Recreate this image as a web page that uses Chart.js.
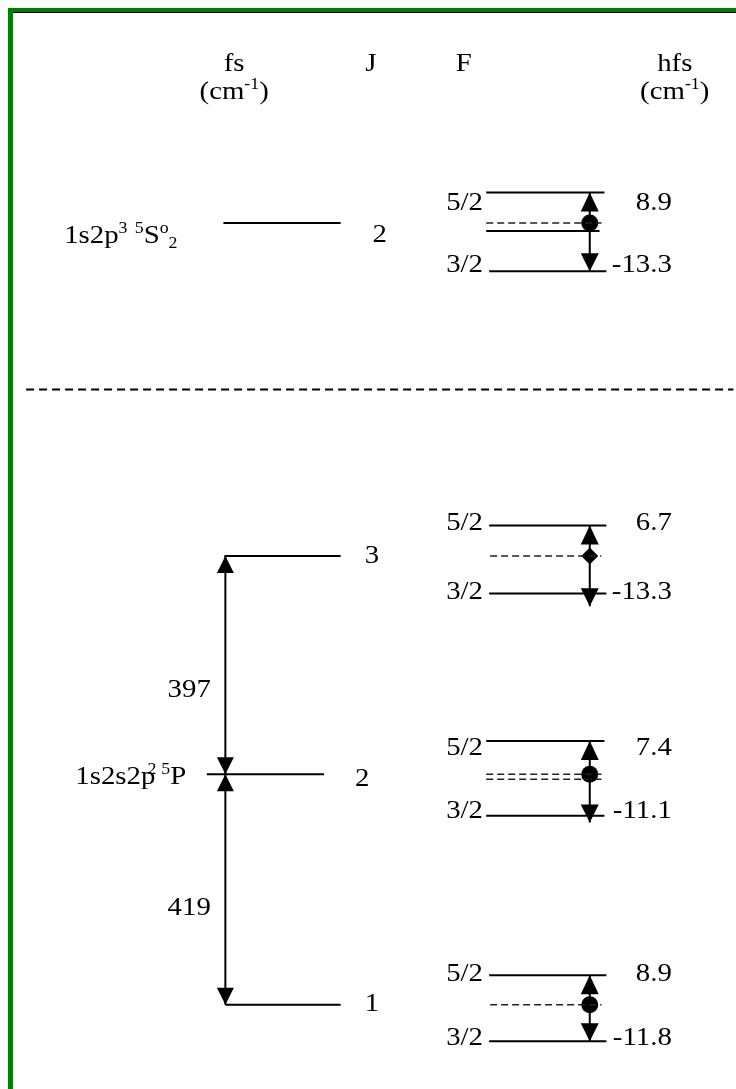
<!DOCTYPE html>
<html><head><meta charset="utf-8">
<script src="https://cdn.jsdelivr.net/npm/chart.js@4.4.1/dist/chart.umd.min.js"></script>
<style>html,body{margin:0;padding:0;background:#fff;overflow:hidden}#wrap{width:736px;height:1089px;position:relative}</style>
</head><body><div id="wrap"><canvas id="c" width="736" height="1089"></canvas></div>
<script>
// ================= DATA =================
const headerLabels = ['fs', 'J', 'F', 'hfs'];
const unitSegs = [['(cm'], ['-1', 'sup'], [')']];
const upperTerm = [['1s2p'], ['3', 'sup'], [' '], ['5', 'sup'], ['S'], ['o', 'sup'], ['2', 'sub']];
const lowerTerm = [['1s2s2p'], ['2', 'sup', -7], [' ', null, -2], ['5', 'sup'], ['P']];
const groupJ = [2, 3, 2, 1];                 // 1s2p3 5So J=2 ; 1s2s2p2 5P J=3,2,1
const fsIntervals = [397, 419];              // cm-1 : J=3-2 , J=2-1
const fLabels = ['5/2', '3/2'];
const hfsUpper = [8.9, 6.7, 7.4, 8.9];       // F=5/2 shift (cm-1)
const hfsLower = [-13.3, -13.3, -11.1, -11.8]; // F=3/2 shift (cm-1)
const markerKind = ['circle', 'rectRot', 'circle', 'circle'];

// ================= LAYOUT =================
const W = 736, H = 1089;
const FONT = '"Liberation Serif","Times New Roman",serif';
const FSIZE = 25.5, SX = 1.13;
const LAY = {
  upperY: 218, fsBaseY: 778, fsScale: 0.5588,
  fsLineX: [[220, 340], [221, 340], [203, 323], [222, 340]],
  jLabelX: [380, 372, 362, 372], jBase: [237, 563, 790, 1018],
  upDy: [-31, -31, -34, -30], downDy: [49, 38, 42, 37], downTipDy: [49, 51, 49, 37],
  upX: [[489, 610], [492, 612], [489, 610], [492, 612]],
  downX: [[492, 612], [492, 612], [489, 610], [492, 612]],
  dashX: [[489, 607], [493, 607], [489, 607], [493, 607]],
  extraSolid: [{ g: 0, dy: 8, x: [489, 605] }],
  extraDash: [{ g: 2, dy: 5, x: [489, 607] }],
  fUpBase: [205, 530, 758, 988], fDownBase: [268, 600, 822, 1053],
  fX: 448, valRight: 679, stemX: 595, fsStemX: 222,
  sepY: 387, sepX: [18, 742],
  header: { x: [231, 371, 466, 682], base: 63, unitBase: 92, unitX: [231, 682] },
  upperTermX: 57, upperTermBase: 238, lowerTermRight: 182, lowerTermBase: 788,
  intervalX: 185, intervalBase: [699, 921]
};

// level positions: lower term from fine-structure intervals
const groupY = [
  LAY.upperY,
  LAY.fsBaseY - fsIntervals[0] * LAY.fsScale,
  LAY.fsBaseY,
  LAY.fsBaseY + fsIntervals[1] * LAY.fsScale
];

// ================= DATASETS =================
const datasets = [];
const DASH = { borderDash: [7, 4], borderWidth: 1.5, borderColor: '#222' };
function seg(x0, y0, x1, y1, opt) {
  datasets.push(Object.assign({
    data: [{ x: x0, y: y0 }, { x: x1, y: y1 }], showLine: true, borderColor: '#000',
    borderWidth: 2, pointRadius: 0, pointHoverRadius: 0, clip: false
  }, opt || {}));
}
groupJ.forEach((j, g) => {
  const y = groupY[g];
  seg(LAY.fsLineX[g][0], y, LAY.fsLineX[g][1], y);
  seg(LAY.upX[g][0], y + LAY.upDy[g], LAY.upX[g][1], y + LAY.upDy[g]);
  seg(LAY.downX[g][0], y + LAY.downDy[g], LAY.downX[g][1], y + LAY.downDy[g]);
  seg(LAY.dashX[g][0], y, LAY.dashX[g][1], y, DASH);
  seg(LAY.stemX, y + LAY.upDy[g], LAY.stemX, y + LAY.downTipDy[g]);
});
LAY.extraSolid.forEach(e => seg(e.x[0], groupY[e.g] + e.dy, e.x[1], groupY[e.g] + e.dy));
LAY.extraDash.forEach(e => seg(e.x[0], groupY[e.g] + e.dy, e.x[1], groupY[e.g] + e.dy, DASH));
seg(LAY.fsStemX, groupY[1], LAY.fsStemX, groupY[3]);
seg(LAY.sepX[0], LAY.sepY, LAY.sepX[1], LAY.sepY, { borderDash: [8, 5], borderWidth: 2 });
datasets.push({
  data: groupJ.map((j, g) => ({ x: LAY.stemX, y: groupY[g] })),
  pointStyle: markerKind, pointRadius: 8.5,
  pointBackgroundColor: '#000', pointBorderColor: '#000', pointBorderWidth: 0, showLine: false, clip: false
});

// arrowheads (tips at levels)
const arrows = [];
groupJ.forEach((j, g) => {
  arrows.push({ x: LAY.stemX, y: groupY[g] + LAY.upDy[g], dir: -1, w: 18, h: 19 });
  arrows.push({ x: LAY.stemX, y: groupY[g] + LAY.downTipDy[g], dir: 1, w: 18, h: 18 });
});
arrows.push({ x: LAY.fsStemX, y: groupY[1], dir: -1, w: 17, h: 17 });
arrows.push({ x: LAY.fsStemX, y: groupY[2], dir: 1, w: 17, h: 17 });
arrows.push({ x: LAY.fsStemX, y: groupY[2], dir: -1, w: 17, h: 17 });
arrows.push({ x: LAY.fsStemX, y: groupY[3], dir: 1, w: 17, h: 17 });

// texts
const texts = [];
headerLabels.forEach((t, i) => texts.push({ segs: [[t]], x: LAY.header.x[i], y: LAY.header.base, align: 'center' }));
LAY.header.unitX.forEach(x => texts.push({ segs: unitSegs, x, y: LAY.header.unitBase, align: 'center' }));
texts.push({ segs: upperTerm, x: LAY.upperTermX, y: LAY.upperTermBase, align: 'left' });
texts.push({ segs: lowerTerm, x: LAY.lowerTermRight, y: LAY.lowerTermBase, align: 'right' });
fsIntervals.forEach((v, i) => texts.push({ segs: [[String(v)]], x: LAY.intervalX, y: LAY.intervalBase[i], align: 'center' }));
groupJ.forEach((j, g) => {
  texts.push({ segs: [[String(j)]], x: LAY.jLabelX[g], y: LAY.jBase[g], align: 'center' });
  texts.push({ segs: [[fLabels[0]]], x: LAY.fX, y: LAY.fUpBase[g], align: 'left' });
  texts.push({ segs: [[fLabels[1]]], x: LAY.fX, y: LAY.fDownBase[g], align: 'left' });
  texts.push({ segs: [[hfsUpper[g].toFixed(1)]], x: LAY.valRight, y: LAY.fUpBase[g], align: 'right' });
  texts.push({ segs: [[hfsLower[g].toFixed(1)]], x: LAY.valRight, y: LAY.fDownBase[g], align: 'right' });
});

function segFont(k) { return (k ? FSIZE * 0.62 : FSIZE) + 'px ' + FONT; }
function drawRich(ctx, segs, x, y, align) {
  ctx.save();
  ctx.translate(x, y); ctx.scale(SX, 1);
  let w = 0;
  segs.forEach(([t, k, kern]) => { ctx.font = segFont(k); w += ctx.measureText(t).width + (kern || 0); });
  let cx = align === 'center' ? -w / 2 : align === 'right' ? -w : 0;
  ctx.textBaseline = 'alphabetic'; ctx.textAlign = 'left'; ctx.fillStyle = '#000';
  segs.forEach(([t, k, kern]) => {
    ctx.font = segFont(k);
    cx += (kern || 0);
    const dy = k === 'sup' ? -FSIZE * 0.4 : k === 'sub' ? FSIZE * 0.2 : 0;
    ctx.fillText(t, cx, dy);
    cx += ctx.measureText(t).width;
  });
  ctx.restore();
}

const framePlugin = {
  id: 'frame',
  beforeDraw(chart) {
    const ctx = chart.ctx;
    ctx.save();
    ctx.fillStyle = '#fff'; ctx.fillRect(0, 0, W, H);
    ctx.fillStyle = '#008000';
    ctx.fillRect(8, 8, W - 8, 4);
    ctx.fillRect(8, 8, 5, H - 8);
    ctx.fillStyle = '#000'; ctx.fillRect(13, 12, W - 13, 1);
    ctx.restore();
  },
  afterDatasetsDraw(chart) {
    const ctx = chart.ctx, xs = chart.scales.x, ys = chart.scales.y;
    ctx.save(); ctx.fillStyle = '#000';
    arrows.forEach(a => {
      const px = xs.getPixelForValue(a.x), py = ys.getPixelForValue(a.y);
      ctx.beginPath();
      ctx.moveTo(px, py);
      ctx.lineTo(px - a.w / 2, py - a.dir * a.h);
      ctx.lineTo(px + a.w / 2, py - a.dir * a.h);
      ctx.closePath(); ctx.fill();
    });
    texts.forEach(t => drawRich(ctx, t.segs, xs.getPixelForValue(t.x), ys.getPixelForValue(t.y), t.align));
    ctx.restore();
  }
};

new Chart(document.getElementById('c'), {
  type: 'scatter',
  data: { datasets },
  options: {
    responsive: false, animation: false, devicePixelRatio: 1,
    layout: { padding: 0 },
    plugins: { legend: { display: false }, tooltip: { enabled: false } },
    events: [],
    scales: {
      x: { type: 'linear', min: 0, max: W, display: false },
      y: { type: 'linear', min: 0, max: H, reverse: true, display: false }
    }
  },
  plugins: [framePlugin]
});
</script></body></html>
